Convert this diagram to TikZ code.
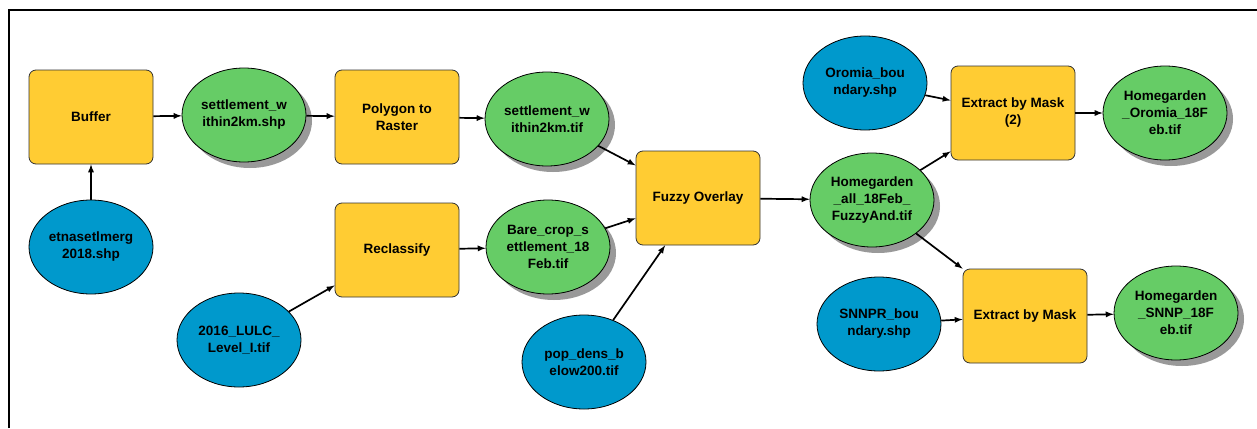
\documentclass[tikz,border=0pt]{standalone}
\usepackage{fontspec}
\setmainfont{Liberation Sans}
\usetikzlibrary{shapes.geometric,shadows,positioning}
\definecolor{toolyellow}{RGB}{255,204,51}
\definecolor{outgreen}{RGB}{102,204,102}
\definecolor{inblue}{RGB}{0,153,204}
\begin{document}
\begin{tikzpicture}[x=1pt,y=-1pt,
  every node/.style={font=\bfseries\fontsize{13.5}{17}\selectfont,align=center,inner sep=0pt},
  tool/.style={draw=black!80,line width=.8pt,fill=toolyellow,rounded corners=7pt,minimum width=124pt,minimum height=94pt},
  indata/.style={ellipse,draw,line width=.8pt,fill=inblue,minimum width=124pt,minimum height=94pt},
  outdata/.style={indata,fill=outgreen,drop shadow={shadow xshift=6pt,shadow yshift=-6pt,fill=black!40,opacity=1}},
  link/.style={-latex,line width=1.7pt}]
\useasboundingbox (0,0) rectangle (1257,428);
\draw [line width=2pt] (9,428) -- (9,10) -- (1257,10);

% first row
\node [tool] (buffer) at (91,117) {Buffer};
\node [outdata] (settshp) at (244,115) {settlement\_w\\ithin2km.shp};
\node [tool] (polyras) at (397,117) {Polygon to\\Raster};
\node [outdata] (setttif) at (547,119) {settlement\_w\\ithin2km.tif};

% second row
\node [indata] (etnaset) at (91,247) {etnasetlmerg\\2018.shp};
\node [tool] (reclass) at (397,250) {Reclassify};
\node [indata] (lulc) at (239,340) {2016\_LULC\_\\Level\_I.tif};
\node [outdata] (barecrop) at (548,247) {Bare\_crop\_s\\ettlement\_18\\Feb.tif};
\node [indata] (popdens) at (584,362) {pop\_dens\_b\\elow200.tif};

% overlay and masks
\node [tool] (fuzzy) at (698,198) {Fuzzy Overlay};
\node [outdata] (hgall) at (872,200) {Homegarden\\\_all\_18Feb\_\\FuzzyAnd.tif};
\node [indata] (oromia) at (865,83) {Oromia\_bou\\ndary.shp};
\node [indata] (snnpr) at (879,324) {SNNPR\_bou\\ndary.shp};
\node [tool] (maskb) at (1013,113) {Extract by Mask\\(2)};
\node [tool] (maska) at (1025,316) {Extract by Mask};
\node [outdata] (hgoromia) at (1165,113) {Homegarden\\\_Oromia\_18F\\eb.tif};
\node [outdata] (hgsnnp) at (1176,313) {Homegarden\\\_SNNP\_18F\\eb.tif};

\draw [link] (etnaset) -- (buffer);
\draw [link] (buffer) -- (settshp);
\draw [link] (settshp) -- (polyras);
\draw [link] (polyras) -- (setttif);
\draw [link] (lulc) -- (reclass);
\draw [link] (reclass) -- (barecrop);
\draw [link] (setttif) -- (fuzzy);
\draw [link] (barecrop) -- (fuzzy);
\draw [link] (popdens) -- (fuzzy);
\draw [link] (fuzzy) -- (hgall);
\draw [link] (oromia) -- (maskb);
\draw [link] (hgall) -- (maskb);
\draw [link] (hgall) -- (maska);
\draw [link] (snnpr) -- (maska);
\draw [link] (maskb) -- (hgoromia);
\draw [link] (maska) -- (hgsnnp);
\end{tikzpicture}
\end{document}
